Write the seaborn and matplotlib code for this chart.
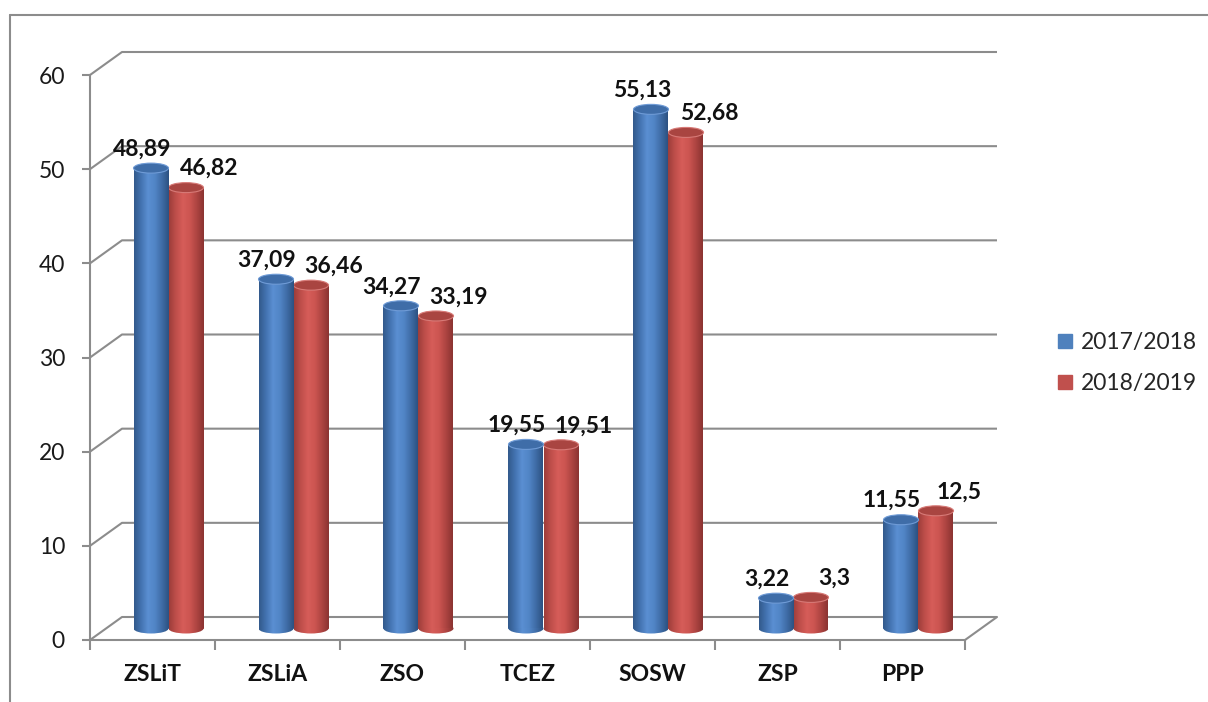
import numpy as np
import pandas as pd
import matplotlib
matplotlib.use("Agg")
import matplotlib.pyplot as plt
import seaborn as sns
from matplotlib.patches import Ellipse
from matplotlib.lines import Line2D
from matplotlib.colors import LinearSegmentedColormap

# ---- data ----
schools = ["ZSLiT", "ZSLiA", "ZSO", "TCEZ", "SOSW", "ZSP", "PPP"]
years = ["2017/2018", "2018/2019"]
values_2017 = [48.89, 37.09, 34.27, 19.55, 55.13, 3.22, 11.55]
values_2018 = [46.82, 36.46, 33.19, 19.51, 52.68, 3.3, 12.5]
y_ticks = [0, 10, 20, 30, 40, 50, 60]

# ---- style ----
W, H = 1208, 702
GRAY = "#8c8c8c"
BASE = ["#4F81BD", "#C0504D"]
GRADS = [
    ["#32598b", "#4373b0", "#5a8fd2", "#5185c6", "#3f6ca6", "#2c5181"],
    ["#9c3d3a", "#bf4f4b", "#d65d59", "#cc5551", "#ad4441", "#8a3331"],
]
TOPS = ["#3f6da8", "#a94541"]
TOP_EDGES = ["#6f9bd6", "#d77a77"]
FS = 16.5

sns.set_theme(style="white")
plt.rcParams["font.family"] = ["Lato", "DejaVu Sans"]

fig = plt.figure(figsize=(W / 100, H / 100), dpi=100)
ax = fig.add_axes([90 / W, (H - 640) / H, 875 / W, 565 / H])

df = pd.DataFrame({
    "school": schools * 2,
    "year": [years[0]] * len(schools) + [years[1]] * len(schools),
    "value": values_2017 + values_2018,
})
sns.barplot(data=df, x="school", y="value", hue="year", order=schools,
            hue_order=years, palette=BASE, width=0.56, saturation=1,
            errorbar=None, legend=False, ax=ax)

XMIN, XMAX, YMIN, YMAX = -0.5, len(schools) - 0.5, 0, 60
ax.set_xlim(XMIN, XMAX)
ax.set_ylim(YMIN, YMAX)
ppx = 875 / (XMAX - XMIN)   # pixels per x unit
ppy = 565 / (YMAX - YMIN)   # pixels per y unit
DX, DY = 32 / ppx, 23 / ppy  # depth of 3D box in data units
EH = 10 / ppy               # ellipse height for cylinder caps

# back wall gridlines + side wall diagonals
for v in y_ticks:
    ax.plot([XMIN, XMIN + DX, XMAX + DX], [v, v + DY, v + DY], color=GRAY,
            lw=1.5, clip_on=False, zorder=0.5, solid_capstyle="butt")
ax.plot([XMAX, XMAX + DX], [0, DY], color=GRAY, lw=1.5, clip_on=False, zorder=0.5)

# cylinders
label_dx = [-6.5, 16.5]
for j, cont in enumerate(ax.containers):
    cmap = LinearSegmentedColormap.from_list(f"c{j}", GRADS[j])
    grad = np.linspace(0, 1, 256)[np.newaxis, :]
    z = 3 - j
    vals = [values_2017, values_2018][j]
    for i, p in enumerate(cont.patches):
        x = p.get_x() + DX / 2
        w = p.get_width()
        h = p.get_height()
        y0 = DY / 2
        p.set_x(x)
        p.set_y(y0)
        p.set_edgecolor("none")
        p.set_zorder(z)
        im = ax.imshow(grad, cmap=cmap, extent=(x, x + w, y0, y0 + h),
                       aspect="auto", zorder=z + 0.1, interpolation="bilinear")
        im.set_clip_path(p)
        bottom = Ellipse((x + w / 2, y0), w, EH, facecolor="none", edgecolor="none")
        ax.add_patch(bottom)
        im2 = ax.imshow(grad, cmap=cmap, extent=(x, x + w, y0 - EH, y0 + EH),
                        aspect="auto", zorder=z + 0.05, interpolation="bilinear")
        im2.set_clip_path(bottom)
        top = Ellipse((x + w / 2, y0 + h), w, EH, facecolor=TOPS[j],
                      edgecolor=TOP_EDGES[j], lw=0.8, zorder=z + 0.2)
        ax.add_patch(top)
        txt = f"{vals[i]:g}".replace(".", ",")
        ax.annotate(txt, xy=(x + w / 2, h), xytext=(label_dx[j], 22),
                    textcoords="offset points", ha="center", va="center",
                    fontsize=FS, fontweight="bold", color="#111111", zorder=6)

ax.set_xlim(XMIN, XMAX)
ax.set_ylim(YMIN, YMAX)

# axes styling
for s in ["top", "right"]:
    ax.spines[s].set_visible(False)
for s in ["left", "bottom"]:
    ax.spines[s].set_color(GRAY)
    ax.spines[s].set_linewidth(1.5)
    ax.spines[s].set_zorder(0.6)

ax.set_yticks(y_ticks)
ax.set_yticklabels([str(t) for t in y_ticks])
ax.tick_params(axis="y", left=True, length=6, width=1.5, color=GRAY, pad=12,
               labelsize=FS, labelcolor="#1a1a1a")
ax.set_xticks(range(len(schools)))
ax.set_xticklabels(schools, fontweight="bold", fontsize=FS, color="#111111")
ax.set_xticks(np.arange(XMIN, XMAX + 0.01, 1), minor=True)
ax.tick_params(axis="x", which="major", bottom=True, length=0, pad=17)
ax.tick_params(axis="x", which="minor", bottom=True, length=7, width=1.5,
               color=GRAY, direction="out")
ax.set_xlabel("")
ax.set_ylabel("")
ax.grid(False)

# legend
handles = [Line2D([], [], marker="s", ls="none", markersize=9.5,
                  markerfacecolor=c, markeredgecolor=c) for c in BASE]
fig.legend(handles, years, loc="center left",
           bbox_to_anchor=(1042 / W, 1 - 363 / H), frameon=False, fontsize=FS,
           handletextpad=0.2, labelspacing=0.85, borderpad=0, handlelength=1.0)

# chart-area border (top and left visible)
fig.add_artist(Line2D([10 / W, 1], [1 - 15 / H, 1 - 15 / H],
                      transform=fig.transFigure, color=GRAY, lw=1.5))
fig.add_artist(Line2D([10 / W, 10 / W], [0, 1 - 15 / H],
                      transform=fig.transFigure, color=GRAY, lw=1.5))

fig.savefig("out.png", dpi=100)
